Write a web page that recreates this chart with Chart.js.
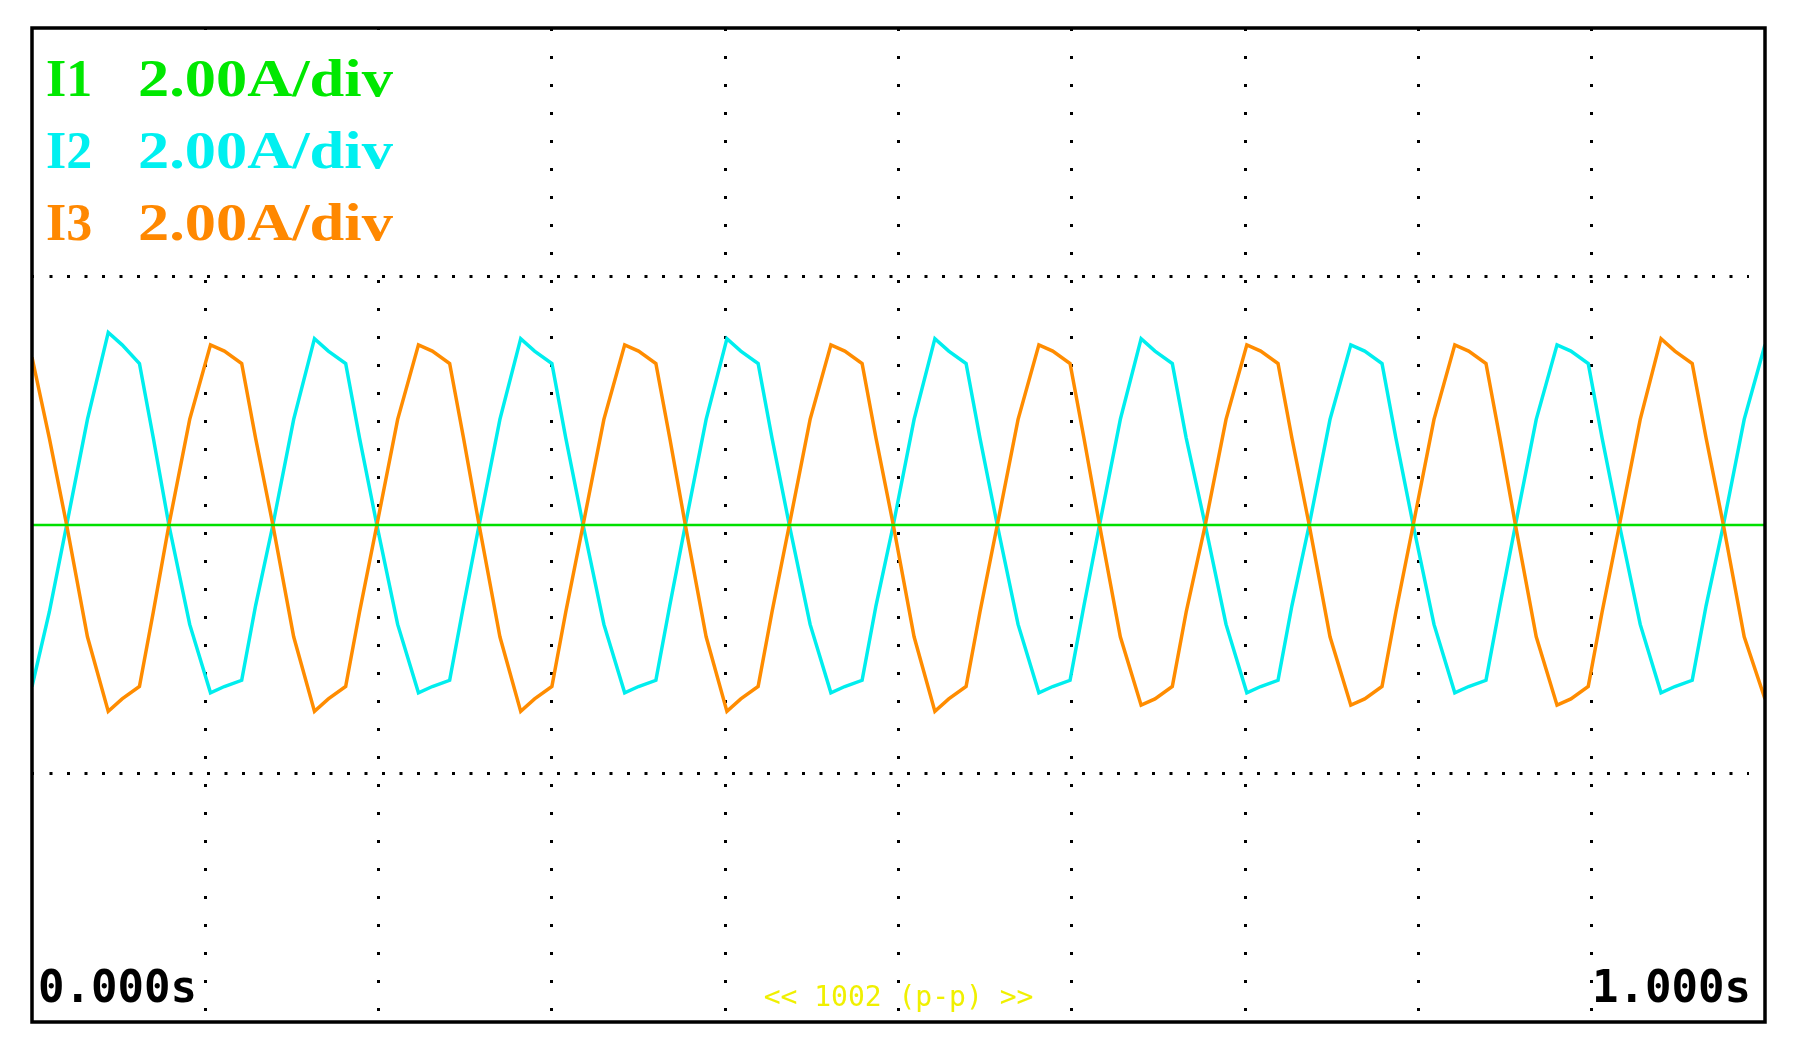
<!DOCTYPE html>
<html><head><meta charset="utf-8">
<script src="https://cdn.jsdelivr.net/npm/chart.js@4"></script>
<style>html,body{margin:0;background:#fff}#wrap{width:1800px;height:1049px}</style>
</head><body><div id="wrap"><canvas id="c" width="1800" height="1049"></canvas></div>
<script>
const times = [0,0.010,
0.020,0.032,0.044,0.052,0.062,0.070,
0.079,0.091,0.103,0.111,0.121,0.129,
0.139,0.151,0.163,0.171,0.181,0.189,
0.199,0.211,0.223,0.231,0.241,0.249,
0.258,0.270,0.282,0.290,0.300,0.308,
0.318,0.330,0.342,0.350,0.360,0.368,
0.377,0.389,0.401,0.409,0.419,0.427,
0.437,0.449,0.461,0.469,0.479,0.487,
0.497,0.509,0.521,0.529,0.539,0.547,
0.557,0.569,0.581,0.589,0.599,0.607,
0.616,0.628,0.640,0.648,0.658,0.666,
0.677,0.689,0.701,0.709,0.719,0.727,
0.737,0.749,0.761,0.769,0.779,0.787,
0.797,0.809,0.821,0.829,0.839,0.847,
0.856,0.868,0.880,0.888,0.898,0.906,
0.916,0.928,0.940,0.948,0.958,0.966,
0.976,0.988,1.000];
const cyan = [-2.6,-1.4,
0,1.7,3.1,2.9,2.6,1.4,
0,-1.6,-2.7,-2.6,-2.5,-1.3,
0,1.7,3.0,2.8,2.6,1.4,
0,-1.6,-2.7,-2.6,-2.5,-1.3,
0,1.7,3.0,2.8,2.6,1.4,
0,-1.6,-2.7,-2.6,-2.5,-1.3,
0,1.7,3.0,2.8,2.6,1.4,
0,-1.6,-2.7,-2.6,-2.5,-1.3,
0,1.7,3.0,2.8,2.6,1.4,
0,-1.6,-2.7,-2.6,-2.5,-1.3,
0,1.7,3.0,2.8,2.6,1.4,
0,-1.6,-2.7,-2.6,-2.5,-1.3,
0,1.7,2.9,2.8,2.6,1.4,
0,-1.6,-2.7,-2.6,-2.5,-1.3,
0,1.7,2.9,2.8,2.6,1.4,
0,-1.6,-2.7,-2.6,-2.5,-1.3,
0,1.7,2.9];
const orange = [2.7,1.4,
0,-1.8,-3.0,-2.8,-2.6,-1.4,
0,1.7,2.9,2.8,2.6,1.4,
0,-1.8,-3.0,-2.8,-2.6,-1.4,
0,1.7,2.9,2.8,2.6,1.4,
0,-1.8,-3.0,-2.8,-2.6,-1.4,
0,1.7,2.9,2.8,2.6,1.4,
0,-1.8,-3.0,-2.8,-2.6,-1.4,
0,1.7,2.9,2.8,2.6,1.4,
0,-1.8,-3.0,-2.8,-2.6,-1.4,
0,1.7,2.9,2.8,2.6,1.4,
0,-1.8,-2.9,-2.8,-2.6,-1.4,
0,1.7,2.9,2.8,2.6,1.4,
0,-1.8,-2.9,-2.8,-2.6,-1.4,
0,1.7,2.9,2.8,2.6,1.4,
0,-1.8,-2.9,-2.8,-2.6,-1.4,
0,1.7,3.0,2.8,2.6,1.4,
0,-1.8,-2.8];
const green = [0,0];
const greenTimes = [0,1];
const xTicks = [0,0.1,0.2,0.3,0.4,0.5,0.6,0.7,0.8,0.9,1.0];
const labels = [["I1","2.00A/div","#00e800"],["I2","2.00A/div","#00f0f0"],["I3","2.00A/div","#ff8800"]];
const timeStart = "0.000s", timeEnd = "1.000s", centerText = "<< 1002 (p-p) >>";

const pts=(t,v)=>t.map((x,i)=>({x,y:v[i]}));
const overlay={id:'overlay',
 beforeDatasetsDraw(ch){const c=ch.ctx,a=ch.chartArea;c.save();
  c.fillStyle='#fff';c.fillRect(a.left+2,a.top+2,440,240);
  c.fillRect(a.left+2,a.top+2,14,ch.height);c.fillRect(a.right-16,a.top+2,14,ch.height);
  c.font='bold 52px "Liberation Serif"';c.textBaseline='alphabetic';
  labels.forEach((l,i)=>{c.fillStyle=l[2];const y=a.top+68+i*72;c.fillText(l[0],a.left+14,y);
   c.save();c.translate(a.left+106,y);c.scale(1.2,1);c.fillText(l[1],0,0);c.restore();});
  c.restore();},
 afterDraw(ch){const c=ch.ctx,a=ch.chartArea;c.save();
  c.strokeStyle='#000';c.lineWidth=3.5;c.strokeRect(a.left,a.top,a.right-a.left,a.bottom-a.top);
  c.font='bold 44px "DejaVu Sans Mono"';c.fillStyle='#000';c.textBaseline='alphabetic';
  c.textAlign='left';c.fillText(timeStart,a.left+6,a.bottom-20);
  c.textAlign='right';c.fillText(timeEnd,a.right-14,a.bottom-20);
  c.font='28px "DejaVu Sans Mono"';c.fillStyle='#f0f000';c.textAlign='center';
  c.fillText(centerText,(a.left+a.right)/2,a.bottom-16);
  c.restore();}};
new Chart(document.getElementById('c'),{type:'scatter',
 data:{datasets:[
  {data:pts(greenTimes,green),showLine:true,borderColor:'#00e000',borderWidth:2.5,pointRadius:0},
  {data:pts(times,orange),showLine:true,borderColor:'#ff8c00',borderWidth:3.5,pointRadius:0},
  {data:pts(times,cyan),showLine:true,borderColor:'#00eeee',borderWidth:3.5,pointRadius:0}]},
 options:{responsive:false,animation:false,layout:{padding:{left:32,top:28,right:35,bottom:27}},
  plugins:{legend:{display:false},tooltip:{enabled:false}},
  scales:{
   x:{type:'linear',min:0,max:1,afterBuildTicks:s=>{s.ticks=xTicks.map(v=>({value:v}));},
      ticks:{display:false},border:{display:false,dash:[3,25]},
      grid:{drawTicks:false,lineWidth:3,color:c=>(c.tick.value>0.001&&c.tick.value<0.999)?'#000':'transparent'}},
   y:{min:-8,max:8,ticks:{display:false,stepSize:2},border:{display:false,dash:[3,14.5]},
      grid:{drawTicks:false,lineWidth:3,color:c=>Math.abs(Math.abs(c.tick.value)-4)<0.01?'#000':'transparent'}}
  }}, plugins:[overlay]});
</script></body></html>
